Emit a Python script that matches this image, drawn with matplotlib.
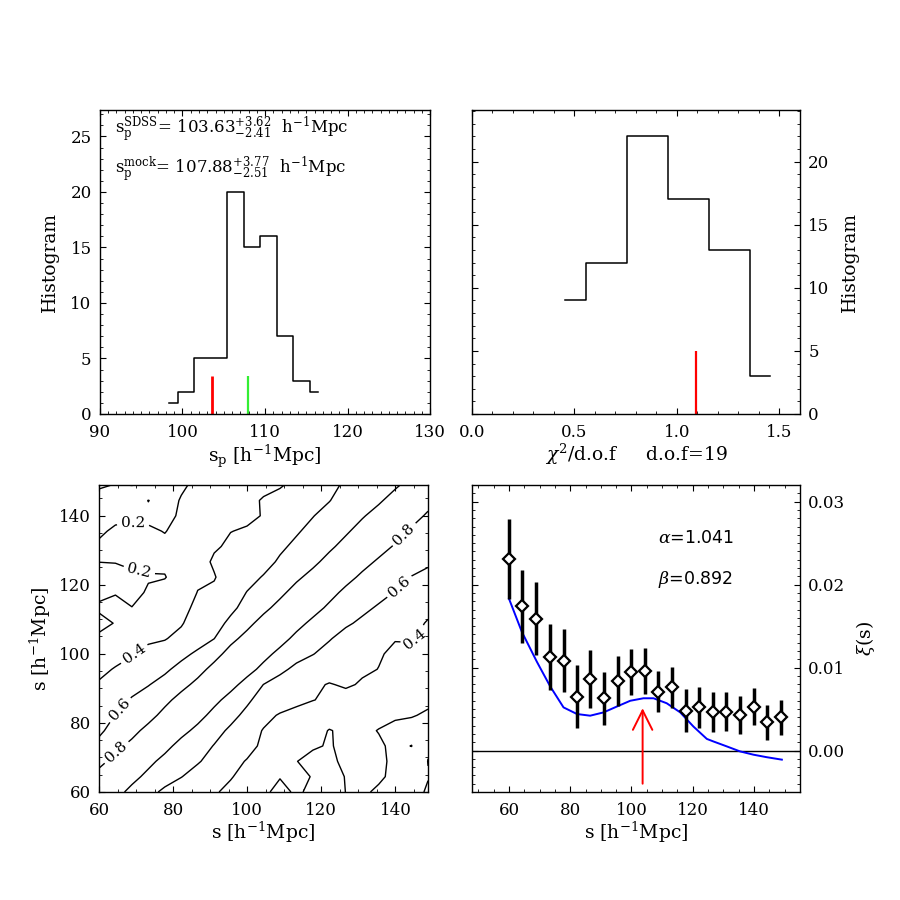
import numpy as np
import matplotlib
matplotlib.use('Agg')
import matplotlib.pyplot as plt
from matplotlib.ticker import MultipleLocator

# ---- data ----
# top left: histogram of the peak position of the mock catalogues
sp_centers = [98.4, 100.4, 102.4, 104.4, 106.4, 108.4, 110.4, 112.4, 114.4, 116.4]
sp_counts = [1, 2, 5, 5, 20, 15, 16, 7, 3, 2]
sp_sdss = 103.63
sp_mock = 107.88
sp_marker_height = 3.4

# top right: histogram of chi2/dof
chi_centers = [0.456, 0.656, 0.856, 1.056, 1.256, 1.456]
chi_counts = [9, 12, 22, 17, 13, 3]
chi_sdss = 1.095
chi_marker_height = 5

# bottom left: correlation matrix, upper triangle row by row (row i -> j=i+1..20)
s_grid = [60.0, 64.44, 68.88, 73.32, 77.76, 82.2, 86.64, 91.08, 95.52, 99.96, 104.4,
          108.84, 113.28, 117.72, 122.16, 126.6, 131.04, 135.48, 139.92, 144.36, 148.8]
corr_upper = [
    [0.88, 0.735, 0.64, 0.573, 0.51, 0.46, 0.415, 0.365, 0.30, 0.22, 0.17, 0.215, 0.178, 0.16, 0.201, 0.22, 0.18, 0.12, 0.06, -0.02],
    [0.87, 0.74, 0.655, 0.605, 0.535, 0.47, 0.41, 0.35, 0.27, 0.205, 0.23, 0.194, 0.17, 0.203, 0.24, 0.22, 0.17, 0.09, 0.007],
    [0.86, 0.73, 0.66, 0.615, 0.54, 0.45, 0.39, 0.33, 0.26, 0.203, 0.16, 0.18, 0.22, 0.25, 0.23, 0.17, 0.12, -0.003],
    [0.87, 0.72, 0.65, 0.595, 0.52, 0.45, 0.37, 0.31, 0.26, 0.215, 0.19, 0.23, 0.25, 0.22, 0.17, 0.203, 0.015],
    [0.87, 0.74, 0.64, 0.58, 0.48, 0.39, 0.33, 0.29, 0.24, 0.195, 0.22, 0.23, 0.195, 0.16, 0.14, 0.10],
    [0.88, 0.73, 0.635, 0.57, 0.45, 0.385, 0.35, 0.30, 0.25, 0.24, 0.25, 0.24, 0.22, 0.21, 0.18],
    [0.86, 0.72, 0.62, 0.55, 0.49, 0.44, 0.405, 0.37, 0.34, 0.31, 0.29, 0.27, 0.25, 0.23],
    [0.87, 0.72, 0.598, 0.53, 0.47, 0.43, 0.39, 0.42, 0.385, 0.35, 0.32, 0.30, 0.28],
    [0.88, 0.74, 0.64, 0.56, 0.52, 0.48, 0.44, 0.42, 0.398, 0.36, 0.33, 0.31],
    [0.87, 0.74, 0.66, 0.605, 0.55, 0.50, 0.46, 0.41, 0.38, 0.37, 0.35],
    [0.88, 0.745, 0.665, 0.61, 0.55, 0.50, 0.46, 0.405, 0.41, 0.37],
    [0.87, 0.75, 0.67, 0.62, 0.575, 0.53, 0.49, 0.45, 0.386],
    [0.88, 0.76, 0.68, 0.63, 0.585, 0.53, 0.49, 0.44],
    [0.87, 0.75, 0.69, 0.64, 0.595, 0.55, 0.51],
    [0.87, 0.76, 0.70, 0.65, 0.595, 0.565],
    [0.87, 0.77, 0.71, 0.66, 0.62],
    [0.88, 0.78, 0.72, 0.66],
    [0.88, 0.77, 0.72],
    [0.88, 0.77],
    [0.87],
]
corr_levels = [0.0, 0.2, 0.4, 0.6, 0.8]
label_spots = [(69, 135.3), (71, 124.7), (70.2, 99.1), (65.7, 83.7), (63.4, 73.1),
               (142.1, 134.8), (139, 121.8), (144.8, 104.9)]

# bottom right: xi(s) measurement and model
s_pts = [60.0, 64.4, 68.9, 73.3, 77.8, 82.2, 86.6, 91.1, 95.5, 100.0, 104.4,
         108.8, 113.3, 117.7, 122.2, 126.6, 131.0, 135.5, 139.9, 144.4, 148.8]
xi_pts = [0.0231, 0.0174, 0.0159, 0.0113, 0.0108, 0.0065, 0.0086, 0.0063, 0.0084, 0.0095, 0.0096,
          0.0071, 0.0076, 0.0048, 0.0052, 0.0046, 0.0047, 0.0043, 0.0053, 0.0034, 0.0040]
xi_err = [0.0048, 0.0044, 0.0044, 0.0040, 0.0038, 0.0038, 0.0035, 0.0032, 0.0030, 0.0028, 0.0028,
          0.0025, 0.0025, 0.0026, 0.0025, 0.0024, 0.0024, 0.0023, 0.0022, 0.0021, 0.0021]
model_s = [60, 64.2, 69.1, 73.5, 77.8, 82.2, 86.5, 90.9, 95.2, 99.6, 103.9, 107.2,
           111.5, 115.9, 120.2, 124.6, 126.7, 131.1, 135.4, 139.8, 144.1, 149.1]
model_xi = [0.0183, 0.0143, 0.0107, 0.0077, 0.0052, 0.0044, 0.0042, 0.0046, 0.0053, 0.0060, 0.0063,
            0.0063, 0.0057, 0.0046, 0.0029, 0.0014, 0.0011, 0.0005, -0.0001, -0.0005, -0.0008, -0.0011]
arrow_tail, arrow_tip = -0.0040, 0.0051
alpha_fit, beta_fit = 1.041, 0.892

# ---- style ----
plt.rcParams['font.family'] = ['DejaVu Serif']
plt.rcParams['mathtext.fontset'] = 'dejavuserif'
plt.rcParams['xtick.direction'] = 'in'
plt.rcParams['ytick.direction'] = 'in'
plt.rcParams['xtick.top'] = True
plt.rcParams['ytick.right'] = True
plt.rcParams['xtick.major.size'] = 4
plt.rcParams['ytick.major.size'] = 4
plt.rcParams['xtick.minor.size'] = 2
plt.rcParams['ytick.minor.size'] = 2
plt.rcParams['xtick.labelsize'] = 12
plt.rcParams['ytick.labelsize'] = 12
plt.rcParams['axes.linewidth'] = 1.0
plt.rcParams['xtick.major.pad'] = 7
plt.rcParams['ytick.major.pad'] = 6

fig = plt.figure(figsize=(9, 9), dpi=100)
ax1 = fig.add_axes([0.111, 0.540, 0.367, 0.338])
ax2 = fig.add_axes([0.5244, 0.540, 0.3644, 0.338])
ax3 = fig.add_axes([0.110, 0.120, 0.3656, 0.341])
ax4 = fig.add_axes([0.5244, 0.120, 0.3644, 0.341])

hmpc = r'[h$^{-1}$Mpc]'
lab_size = 13.5

# top left
ax1.step(sp_centers, sp_counts, where='mid', color='k', lw=1.1)
ax1.vlines(sp_sdss, 0, sp_marker_height, color='red', lw=2)
ax1.vlines(sp_mock, 0, sp_marker_height, color='#33ee33', lw=1.6)
ax1.set_xlim(90, 130)
ax1.set_ylim(0, 27.4)
ax1.xaxis.set_major_locator(MultipleLocator(10))
ax1.xaxis.set_minor_locator(MultipleLocator(1))
ax1.yaxis.set_major_locator(MultipleLocator(5))
ax1.yaxis.set_minor_locator(MultipleLocator(1))
ax1.set_xlabel(r'$\mathrm{s_p}$ ' + hmpc, fontsize=lab_size, labelpad=1)
ax1.set_ylabel('Histogram', fontsize=lab_size, labelpad=8)
ax1.text(0.045, 0.935, r'$\mathrm{s_p^{SDSS}}$= $\mathrm{103.63^{+3.62}_{-2.41}}$  h$^{-1}$Mpc',
         transform=ax1.transAxes, fontsize=12, va='center')
ax1.text(0.045, 0.805, r'$\mathrm{s_p^{mock}}$= $\mathrm{107.88^{+3.77}_{-2.51}}$  h$^{-1}$Mpc',
         transform=ax1.transAxes, fontsize=12, va='center')

# top right
ax2.step(chi_centers, chi_counts, where='mid', color='k', lw=1.1)
ax2.vlines(chi_sdss, 0, chi_marker_height, color='red', lw=1.6)
ax2.set_xlim(0, 1.6)
ax2.set_ylim(0, 24.1)
ax2.xaxis.set_major_locator(MultipleLocator(0.5))
ax2.xaxis.set_minor_locator(MultipleLocator(0.1))
ax2.yaxis.set_major_locator(MultipleLocator(5))
ax2.yaxis.set_minor_locator(MultipleLocator(1))
ax2.xaxis.set_major_formatter(matplotlib.ticker.FormatStrFormatter('%.1f'))
ax2.tick_params(axis='y', labelleft=False, labelright=True)
ax2.yaxis.set_label_position('right')
ax2.set_ylabel('Histogram', fontsize=lab_size, labelpad=8)
ax2.set_xlabel(r'$\chi^2$/d.o.f     d.o.f=19', fontsize=lab_size, labelpad=1)

# bottom left: contours of the correlation matrix
n = len(s_grid)
corr = np.eye(n)
for i, row in enumerate(corr_upper):
    for k, v in enumerate(row):
        corr[i, i + 1 + k] = v
        corr[i + 1 + k, i] = v
cs = ax3.contour(s_grid, s_grid, corr, levels=corr_levels, colors='k', linewidths=1.0)
ax3.clabel(cs, fmt='%.1f', fontsize=11, manual=label_spots, inline=True, inline_spacing=4)
ax3.set_xlim(s_grid[0], s_grid[-1])
ax3.set_ylim(s_grid[0], s_grid[-1])
for a in (ax3.xaxis, ax3.yaxis):
    a.set_major_locator(MultipleLocator(20))
    a.set_minor_locator(MultipleLocator(5))
ax3.set_xlabel('s ' + hmpc, fontsize=lab_size, labelpad=1)
ax3.set_ylabel('s ' + hmpc, fontsize=lab_size, labelpad=4)

# bottom right: xi(s)
ax4.axhline(0, color='k', lw=1.0)
ax4.plot(model_s, model_xi, color='#0000ff', lw=1.4)
ax4.errorbar(s_pts, xi_pts, yerr=xi_err, fmt='D', ms=6.5, mfc='white', mec='k', mew=1.6,
             ecolor='k', elinewidth=2.5, capsize=0, zorder=5)
ax4.annotate('', xy=(sp_sdss, arrow_tip), xytext=(sp_sdss, arrow_tail),
             arrowprops=dict(arrowstyle='->,head_length=1.4,head_width=0.7', color='red',
                             lw=1.4, shrinkA=0, shrinkB=0, mutation_scale=10))
ax4.set_xlim(47.9, 155)
ax4.set_ylim(-0.005, 0.032)
ax4.xaxis.set_major_locator(MultipleLocator(20))
ax4.xaxis.set_minor_locator(MultipleLocator(5))
ax4.yaxis.set_major_locator(MultipleLocator(0.01))
ax4.yaxis.set_minor_locator(MultipleLocator(0.001))
ax4.yaxis.set_major_formatter(matplotlib.ticker.FormatStrFormatter('%.2f'))
ax4.tick_params(axis='y', labelleft=False, labelright=True)
ax4.yaxis.set_label_position('right')
ax4.set_ylabel(r'$\xi$(s)', fontsize=lab_size, labelpad=6)
ax4.set_xlabel('s ' + hmpc, fontsize=lab_size, labelpad=1)
ax4.text(108.8, 0.0256, r'$\alpha$=%.3f' % alpha_fit, fontsize=12.5, family='DejaVu Sans', va='center')
ax4.text(108.8, 0.0206, r'$\beta$=%.3f' % beta_fit, fontsize=12.5, family='DejaVu Sans', va='center')

fig.savefig('out.png', dpi=100)
